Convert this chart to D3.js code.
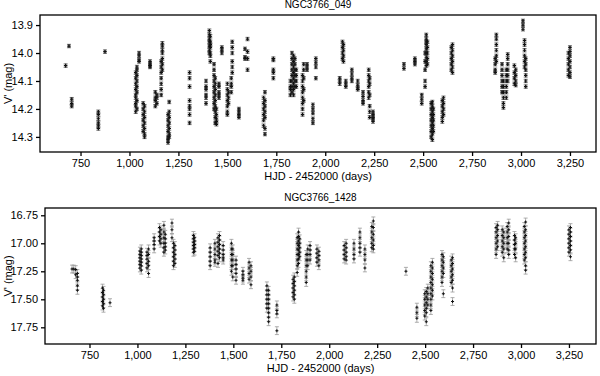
<!DOCTYPE html>
<html>
<head>
<meta charset="utf-8">
<script src="https://cdn.jsdelivr.net/npm/d3@7"></script>
<style>
  body { margin: 0; background: #fff; }
  text { font-family: "Liberation Sans", Arial, sans-serif; fill: #000; }
</style>
</head>
<body>
<svg id="chart" width="600" height="376"></svg>
<script>
// star NGC3766_049 : one entry per observing run (day, magnitudes)
const topDays = [674, 691, 705, 841, 875, 1032, 1038, 1049, 1070, 1077, 1105, 1132, 1140, 1162, 1168,
  1197, 1203, 1307, 1391, 1408, 1413, 1432, 1438, 1444, 1457, 1472, 1500, 1506, 1520, 1525, 1559,
  1590, 1603, 1685, 1692, 1735, 1822, 1830, 1838, 1845, 1852, 1884, 1890, 1907, 1937, 1952,
  2074, 2088, 2093, 2105, 2136, 2166, 2193, 2222, 2227, 2244, 2402, 2458, 2493, 2510, 2516, 2522,
  2541, 2547, 2552, 2598, 2604, 2644, 2650, 2868, 2874, 2903, 2910, 2925, 2932, 2966, 2973,
  3010, 3018, 3024, 3242, 3250];
const topMags = [
  [14.045], [13.975], [14.165, 14.18, 14.19], [14.21, 14.22, 14.235, 14.25, 14.26, 14.27], [13.995],
  [14.07, 14.09, 14.11, 14.13, 14.15, 14.16, 14.18, 14.19, 14.21],
  [14.05, 14.06, 14.08, 14.1, 14.12, 14.14, 14.17, 14.2],
  [14.0, 14.01, 14.025, 14.03],
  [14.18, 14.2, 14.22, 14.24, 14.26, 14.28],
  [14.19, 14.21, 14.23, 14.25, 14.27, 14.29, 14.3],
  [14.03, 14.04, 14.045, 14.05],
  [14.14, 14.16, 14.17, 14.19], [14.15, 14.16, 14.18],
  [14.03, 14.05, 14.07, 14.09, 14.11, 14.13, 14.15],
  [13.965, 13.975, 13.99, 14.0, 14.02, 14.04, 14.06],
  [14.22, 14.24, 14.26, 14.28, 14.3, 14.31, 14.32],
  [14.175, 14.21, 14.23, 14.25, 14.27, 14.29, 14.3],
  [14.07, 14.09, 14.12, 14.17, 14.19, 14.2, 14.22, 14.25],
  [14.1, 14.12, 14.13, 14.15, 14.16, 14.18],
  [13.92, 13.935, 13.95, 13.96, 13.975, 13.99, 14.0],
  [13.94, 13.96, 13.97, 13.98, 14.0, 14.01, 14.03],
  [14.04, 14.06, 14.08, 14.1, 14.12, 14.14, 14.16, 14.18, 14.2],
  [14.09, 14.11, 14.13, 14.15, 14.17, 14.19, 14.21, 14.23, 14.25],
  [14.2, 14.22, 14.235, 14.245, 14.255],
  [14.11, 14.12, 14.14, 14.15, 14.16],
  [13.98, 13.99, 14.0],
  [14.11, 14.13, 14.15, 14.17, 14.19, 14.21, 14.22],
  [14.14, 14.16, 14.18],
  [14.09, 14.11, 14.12, 14.14],
  [13.96, 13.98, 14.0, 14.03, 14.05, 14.07],
  [14.2, 14.21, 14.22, 14.23],
  [13.985, 14.015, 14.02],
  [13.95, 13.995, 14.02, 14.06],
  [14.16, 14.18, 14.2, 14.22, 14.24, 14.26],
  [14.14, 14.17, 14.19, 14.21, 14.23, 14.27, 14.29],
  [14.02, 14.025, 14.06, 14.07, 14.09],
  [14.1, 14.12, 14.13, 14.15],
  [14.0, 14.02, 14.04, 14.06, 14.08, 14.1, 14.12, 14.14],
  [14.01, 14.03, 14.05, 14.07, 14.09, 14.11, 14.13, 14.15],
  [14.02, 14.04, 14.06, 14.08, 14.1, 14.12],
  [14.06, 14.08, 14.1, 14.12],
  [14.08, 14.1, 14.12, 14.14, 14.16, 14.18, 14.2, 14.22],
  [14.04, 14.06, 14.09, 14.13, 14.17],
  [14.04, 14.05, 14.06],
  [14.185, 14.2, 14.215, 14.235, 14.25],
  [14.02, 14.035, 14.05, 14.09],
  [14.09, 14.1, 14.11],
  [13.96, 13.98, 14.0, 14.02],
  [13.97, 13.99, 14.01, 14.03],
  [14.1, 14.11, 14.12],
  [14.06, 14.075, 14.09, 14.1],
  [14.1, 14.115, 14.125, 14.13],
  [14.14, 14.155, 14.17, 14.18],
  [14.06, 14.08, 14.1, 14.12, 14.14, 14.16],
  [14.09, 14.11, 14.15, 14.19, 14.21, 14.23],
  [14.21, 14.22, 14.23, 14.235, 14.245],
  [14.04, 14.055],
  [14.02, 14.03, 14.04],
  [14.15, 14.165, 14.18],
  [14.0, 14.03, 14.06, 14.1, 14.12],
  [13.935, 13.95, 13.96, 13.97, 13.985, 14.0, 14.015, 14.03, 14.045],
  [13.96, 13.98, 14.0, 14.02, 14.04],
  [14.18, 14.2, 14.22, 14.24, 14.26, 14.28, 14.3],
  [14.175, 14.19, 14.21, 14.23, 14.25, 14.27, 14.29, 14.31],
  [14.2, 14.22, 14.24, 14.26, 14.28],
  [14.17, 14.19, 14.21, 14.23, 14.245],
  [14.16, 14.18, 14.2, 14.22],
  [13.98, 14.0, 14.02, 14.04, 14.06],
  [13.97, 13.99, 14.01, 14.03, 14.05, 14.07],
  [14.02, 14.04, 14.06, 14.07],
  [13.935, 13.95, 13.97, 13.99, 14.01, 14.03],
  [14.04, 14.06, 14.08, 14.1, 14.12, 14.14],
  [14.1, 14.12, 14.14, 14.16, 14.18, 14.195],
  [14.06, 14.08, 14.1, 14.12, 14.14, 14.16],
  [14.005, 14.02, 14.04, 14.06, 14.08, 14.1],
  [14.045, 14.07, 14.09, 14.11],
  [14.06, 14.08, 14.1, 14.115],
  [13.885, 13.9, 13.915],
  [13.955, 13.97, 13.99, 14.01, 14.03, 14.05],
  [14.02, 14.04, 14.06, 14.08, 14.1, 14.12],
  [14.0, 14.02, 14.04, 14.06, 14.08],
  [13.98, 13.995, 14.01, 14.03, 14.05, 14.07, 14.085]
];
const topErr = 0.006;
const topTicks = [13.9, 14.0, 14.1, 14.2, 14.3];

// star NGC3766_1428
const botDays = [659, 668, 678, 687, 818, 823, 857, 1013, 1020, 1050, 1058, 1087, 1115, 1122, 1138, 1145,
  1180, 1188, 1195, 1292, 1298, 1379, 1404, 1420, 1428, 1447, 1490, 1497, 1514, 1550, 1582, 1592,
  1675, 1684, 1727, 1812, 1818, 1833, 1840, 1846, 1880, 1888, 1900, 1936, 1946,
  2078, 2088, 2129, 2160, 2186, 2222, 2230, 2400, 2457, 2498, 2506, 2514, 2530, 2538,
  2588, 2595, 2636, 2643, 2870, 2878, 2902, 2910, 2928, 2936, 2966, 2972, 3017, 3024, 3250, 3258];
const botMags = [
  [17.23], [17.23], [17.235, 17.28], [17.27, 17.3, 17.33, 17.38, 17.42],
  [17.4, 17.44, 17.48, 17.52, 17.56], [17.42, 17.46, 17.5, 17.54, 17.58], [17.53],
  [17.07, 17.1, 17.13, 17.16, 17.19, 17.22], [17.05, 17.08, 17.11, 17.14, 17.17, 17.2, 17.24],
  [17.08, 17.11, 17.14, 17.18, 17.22], [17.05, 17.1, 17.16, 17.2, 17.27],
  [16.95, 16.98, 17.01, 17.05], [16.86, 16.9, 16.94, 16.98], [16.88, 16.92, 16.96, 17.0],
  [16.84, 16.9, 16.95, 17.0, 17.04, 17.08], [16.92, 16.96, 17.0, 17.03, 17.06],
  [16.82, 16.88, 16.95], [17.0, 17.04, 17.08, 17.12, 17.16, 17.2], [17.02, 17.06, 17.1, 17.14, 17.18],
  [16.93, 16.96, 16.99, 17.02, 17.05, 17.08], [16.95, 16.98, 17.01, 17.04, 17.07],
  [17.04, 17.08, 17.12, 17.16, 17.2], [17.0, 17.05, 17.1, 17.15, 17.17],
  [16.95, 16.99, 17.03, 17.07, 17.11, 17.18], [16.93, 16.97, 17.01, 17.05, 17.09, 17.13],
  [17.02, 17.06, 17.1, 17.13, 17.15],
  [17.0, 17.05, 17.1, 17.15, 17.2, 17.25], [17.05, 17.1, 17.15, 17.2, 17.3],
  [17.15, 17.19, 17.23, 17.27, 17.33], [17.25, 17.28, 17.31, 17.33],
  [17.17, 17.22, 17.27, 17.32], [17.2, 17.25, 17.3, 17.37],
  [17.38, 17.42, 17.46, 17.5, 17.54, 17.58], [17.42, 17.46, 17.5, 17.54, 17.58, 17.62, 17.66, 17.7],
  [17.55, 17.6, 17.63, 17.78],
  [17.32, 17.36, 17.4, 17.44, 17.48], [17.3, 17.34, 17.38, 17.42, 17.46, 17.5],
  [16.95, 17.0, 17.05, 17.1, 17.15, 17.2, 17.26], [16.9, 16.94, 16.98, 17.02, 17.06, 17.1, 17.14, 17.18],
  [16.96, 17.0, 17.04, 17.08, 17.12],
  [17.1, 17.15, 17.2, 17.25, 17.3, 17.35], [17.05, 17.1, 17.15, 17.2], [17.02, 17.06, 17.1, 17.15],
  [17.05, 17.09, 17.13, 17.17], [17.07, 17.11, 17.15, 17.2],
  [17.02, 17.06, 17.1, 17.14], [17.0, 17.04, 17.08, 17.12, 17.15], [17.0, 17.05, 17.1, 17.14],
  [16.9, 16.95, 17.0, 17.04, 17.08], [17.05, 17.1, 17.15, 17.22],
  [16.85, 16.9, 16.95, 17.0, 17.04], [16.8, 16.86, 16.92, 16.97, 17.02, 17.05],
  [17.25], [17.57, 17.62, 17.67],
  [17.45, 17.5, 17.55, 17.6, 17.65], [17.43, 17.48, 17.53, 17.58, 17.62, 17.7], [17.4, 17.45, 17.5, 17.55],
  [17.2, 17.25, 17.3, 17.35, 17.4, 17.45, 17.5, 17.55, 17.6], [17.17, 17.22, 17.27, 17.32, 17.37, 17.42, 17.47],
  [17.1, 17.15, 17.2, 17.25, 17.3, 17.35], [17.12, 17.17, 17.22, 17.27, 17.45],
  [17.15, 17.2, 17.25, 17.3, 17.35], [17.13, 17.18, 17.23, 17.28, 17.33, 17.4, 17.52],
  [16.86, 16.9, 16.95, 17.0, 17.05, 17.1], [16.84, 16.88, 16.93, 16.98, 17.03],
  [16.88, 16.93, 16.98, 17.03, 17.08], [16.9, 16.95, 17.0, 17.05, 17.13],
  [16.85, 16.9, 16.95, 17.0, 17.05], [16.82, 16.88, 16.94, 17.0, 17.06, 17.1],
  [16.93, 16.97, 17.01, 17.05, 17.1], [16.95, 17.0, 17.05, 17.13],
  [16.85, 16.9, 16.95, 17.0, 17.05, 17.1, 17.15], [16.81, 16.88, 16.93, 16.98, 17.03, 17.08, 17.13, 17.2, 17.24],
  [16.88, 16.92, 16.96, 17.0, 17.04, 17.08], [16.86, 16.9, 16.94, 16.98, 17.02, 17.06, 17.12]
];
const botErr = 0.035;
const botTicks = [16.75, 17.0, 17.25, 17.5, 17.75];

const dayTicks = [750, 1000, 1250, 1500, 1750, 2000, 2250, 2500, 2750, 3000, 3250];

const svg = d3.select('#chart');

function flatten(days, mags) {
  const pts = [];
  days.forEach((d, i) => {
    mags[i].forEach(m => pts.push({day: d, mag: m}));
  });
  return pts;
}

function drawPanel(opts) {
  const g = svg.append('g')
    .attr('transform', `translate(${opts.left}, ${opts.top})`);
  const w = opts.right - opts.left;
  const h = opts.bottom - opts.top;

  const x = d3.scaleLinear().domain(opts.xDomain).range([0, w]);
  const y = d3.scaleLinear().domain(opts.yDomain).range([0, h]);

  const pts = flatten(opts.days, opts.mags);

  // error bars
  const eb = g.append('g')
    .attr('stroke', opts.errColor)
    .attr('stroke-width', 0.8);
  eb.selectAll('path')
    .data(pts)
    .enter()
    .append('path')
    .attr('d', d => {
      const cx = x(d.day), y1 = y(d.mag - opts.err), y2 = y(d.mag + opts.err);
      return `M${cx},${y1}V${y2}M${cx - 2},${y1}H${cx + 2}M${cx - 2},${y2}H${cx + 2}`;
    });

  // markers
  const star = d3.symbol().type(d3.symbolCross).size(opts.markSize);
  g.append('g').selectAll('path')
    .data(pts)
    .enter()
    .append('path')
    .attr('transform', d => `translate(${x(d.day)}, ${y(d.mag)})`)
    .attr('d', star)
    .attr('fill', '#111');

  // frame
  g.append('rect')
    .attr('width', w)
    .attr('height', h)
    .attr('fill', 'none')
    .attr('stroke', '#000')
    .attr('stroke-width', 1.3);

  const xAxis = g.append('g')
    .attr('transform', `translate(0, ${h})`)
    .call(d3.axisBottom(x).tickValues(dayTicks).tickFormat(d3.format(',')).tickSize(4).tickPadding(3));
  const yAxis = g.append('g')
    .call(d3.axisLeft(y).tickValues(opts.yTicks).tickFormat(d3.format(opts.yFormat)).tickSize(4).tickPadding(3));
  [xAxis, yAxis].forEach(a => {
    a.select('.domain').remove();
    a.selectAll('line').attr('stroke', '#000').attr('stroke-width', 1.3);
    a.selectAll('text').attr('font-size', 11).attr('font-family', '"Liberation Sans", Arial, sans-serif').attr('fill', '#000');
  });

  g.append('text')
    .text(opts.title)
    .attr('x', w / 2)
    .attr('y', -7)
    .attr('text-anchor', 'middle')
    .attr('font-size', 10);

  g.append('text')
    .text('HJD - 2452000 (days)')
    .attr('x', w / 2)
    .attr('y', h + 28)
    .attr('text-anchor', 'middle')
    .attr('font-size', 11);

  const ly = h / 2;
  const lx = 12 - opts.left;
  g.append('text')
    .text("V' (mag)")
    .attr('x', lx)
    .attr('y', ly)
    .attr('text-anchor', 'middle')
    .attr('font-size', 11)
    .attr('transform', `rotate(-90, ${lx}, ${ly})`);
}

drawPanel({
  left: 40, top: 15, right: 596, bottom: 152,
  xDomain: [543, 3383], yDomain: [13.864, 14.354],
  days: topDays, mags: topMags, err: topErr, errColor: '#444', markSize: 7,
  yTicks: topTicks, yFormat: '.1f', title: 'NGC3766_049'
});

drawPanel({
  left: 45, top: 208, right: 596, bottom: 344,
  xDomain: [518, 3391], yDomain: [16.685, 17.899],
  days: botDays, mags: botMags, err: botErr, errColor: '#999', markSize: 5,
  yTicks: botTicks, yFormat: '.2f', title: 'NGC3766_1428'
});
</script>
</body>
</html>
